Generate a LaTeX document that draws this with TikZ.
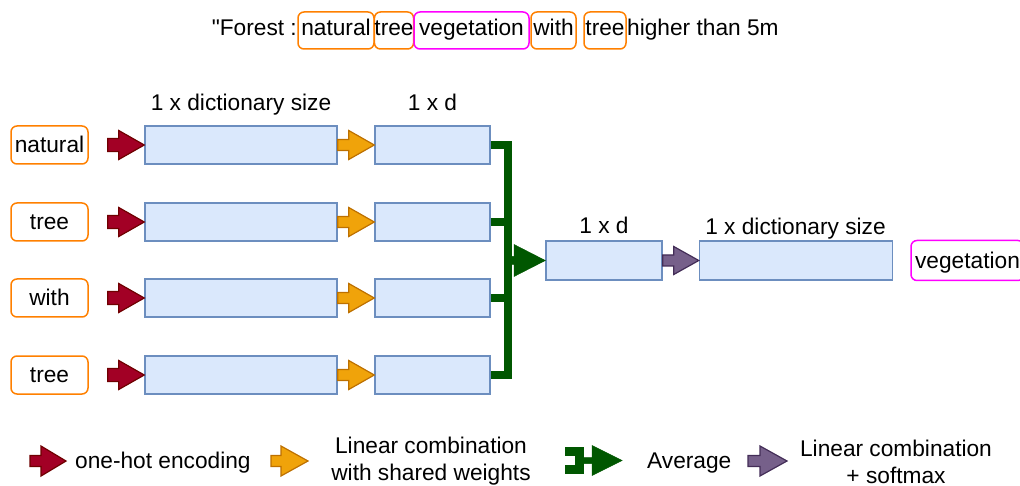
\documentclass[tikz,border=0pt]{standalone}
\usepackage{fontspec}
\setmainfont{Liberation Sans}[Ligatures=TeXOff]
\usetikzlibrary{calc}
\definecolor{wordorange}{RGB}{255,128,0}
\definecolor{wordpink}{RGB}{255,0,255}
\definecolor{boxfill}{HTML}{DAE8FC}
\definecolor{boxdraw}{HTML}{6C8EBF}
\definecolor{redfill}{HTML}{A20025}
\definecolor{reddraw}{HTML}{6F0000}
\definecolor{orfill}{HTML}{F0A30A}
\definecolor{ordraw}{HTML}{BD7000}
\definecolor{purfill}{HTML}{76608A}
\definecolor{purdraw}{HTML}{432D57}
\definecolor{dgreen}{HTML}{005700}
% #1 style, #2 start, #3 end, #4 shaft length, #5 shaft half height, #6 head half height
\newcommand\fatarrow[6]{%
  \path[#1] let \p1=#2, \p2=#3 in
    (\x1,{\y1+#5}) -- ({\x1+#4},{\y1+#5}) -- ({\x1+#4},{\y1+#6}) -- (\x2,\y1)
    -- ({\x1+#4},{\y1-#6}) -- ({\x1+#4},{\y1-#5}) -- (\x1,{\y1-#5}) -- cycle;}
\begin{document}
\begin{tikzpicture}[x=1pt,y=-1pt,
  font=\fontsize{22.7}{27}\selectfont,
  txt/.style={inner sep=0pt, text height=20pt, text depth=4.6pt},
  toptxt/.style={inner sep=0pt, text height=16pt, text depth=5pt},
  word/.style={txt, draw=wordorange, line width=1.5pt, rounded corners=6pt},
  topword/.style={word, toptxt, minimum height=37pt},
  target/.style={word, draw=wordpink},
  vec/.style={txt, draw=boxdraw, fill=boxfill, line width=1.5pt},
  redarr/.style={fill=redfill, draw=reddraw, line width=1.2pt, line join=miter},
  orarr/.style={fill=orfill, draw=ordraw, line width=1.2pt, line join=miter},
  purarr/.style={fill=purfill, draw=purdraw, line width=1.2pt, line join=miter},
  grarr/.style={fill=dgreen, draw=dgreen, line width=0.5pt},
  gline/.style={draw=dgreen, line width=8pt, line join=miter},
  lbl/.style={txt}
]
\useasboundingbox (0,0) rectangle (1020,486);

% top sentence
\node[toptxt, anchor=east] (t0) at (297,30.5) {"Forest :};
\node[topword, minimum width=76pt] (t1) at (336,30.5) {natural};
\node[topword, minimum width=38pt] (t2) at (394,30.5) {tree};
\node[topword, draw=wordpink, minimum width=115pt] (t3) at (471.5,30.5) {vegetation};
\node[topword, minimum width=45pt] (t4) at (553.5,30.5) {with};
\node[topword, minimum width=42pt] (t5) at (605,30.5) {tree};
\node[toptxt, anchor=west] (t6) at (627,30.5) {higher than 5m};

% labels
\node[lbl] (l1) at (241,103.3) {1 x dictionary size};
\node[lbl] (l2) at (432.5,103.3) {1 x d};
\node[lbl] (l3) at (604,226.3) {1 x d};
\node[lbl] (l4) at (795.5,227.3) {1 x dictionary size};

% rows
\foreach \i/\y/\w in {1/145/natural,2/222/tree,3/298/with,4/375/tree}{
  \node[word, minimum width=77pt, minimum height=38pt] (w\i) at (49.5,\y) {\w};
  \node[vec, minimum width=192pt, minimum height=38pt] (b\i) at (241,\y) {};
  \node[vec, minimum width=115pt, minimum height=38pt] (s\i) at (432.5,\y) {};
  \fatarrow{redarr}{($(w\i.east)+(19,0)$)}{(b\i.west)}{11pt}{6.5pt}{14.5pt}
  \fatarrow{orarr}{(b\i.east)}{(s\i.west)}{11pt}{5.5pt}{14.5pt}
}

% merged vectors
\node[vec, minimum width=116pt, minimum height=39pt] (m) at (604,260.5) {};
\node[vec, minimum width=193pt, minimum height=39pt] (o) at (796,260.5) {};
\node[target, minimum width=113pt, minimum height=40pt] (v) at (967.5,260.5) {vegetation};

% average connector
\coordinate (jx) at (508,0);
\draw[gline] (s1.east) -| ($(s4.east -| jx)$) -- (s4.east);
\draw[gline] (s2.east) -- (s2.east -| jx);
\draw[gline] (s3.east) -- (s3.east -| jx);
\fatarrow{grarr}{(m.west -| jx)}{(m.west)}{6pt}{4pt}{16pt}

\fatarrow{purarr}{(m.east)}{(o.west)}{11pt}{5.5pt}{14pt}

% legend
\coordinate (ra) at (30,461); \coordinate (rb) at (66,461);
\fatarrow{redarr}{(ra)}{(rb)}{11pt}{5.5pt}{15pt}
\node[txt, anchor=west] (lg1) at (75,461) {one-hot encoding};

\coordinate (oa) at (271,461); \coordinate (ob) at (308,461);
\fatarrow{orarr}{(oa)}{(ob)}{10pt}{5.5pt}{15pt}
\node[inner sep=0pt, align=center] (lg2) at (431,461.5) {Linear combination\\with shared weights};

\coordinate (ga1) at (565,451.5); \coordinate (gc) at (579,460.5); \coordinate (ga2) at (565,469.5);
\draw[draw=dgreen, line width=9pt, line join=miter] (ga1) -| (gc |- ga2) -- (ga2);
\coordinate (gs) at (582,460.5); \coordinate (gt) at (622,460.5);
\fatarrow{grarr}{(gs)}{(gt)}{10pt}{3pt}{15pt}
\node[txt, anchor=west] (lg3) at (647,461) {Average};

\coordinate (pa) at (748,461); \coordinate (pb) at (787,461);
\fatarrow{purarr}{(pa)}{(pb)}{12pt}{5.5pt}{15pt}
\node[inner sep=0pt, align=center] (lg4) at (896,461.5) {Linear combination\\+ softmax};
\end{tikzpicture}
\end{document}
